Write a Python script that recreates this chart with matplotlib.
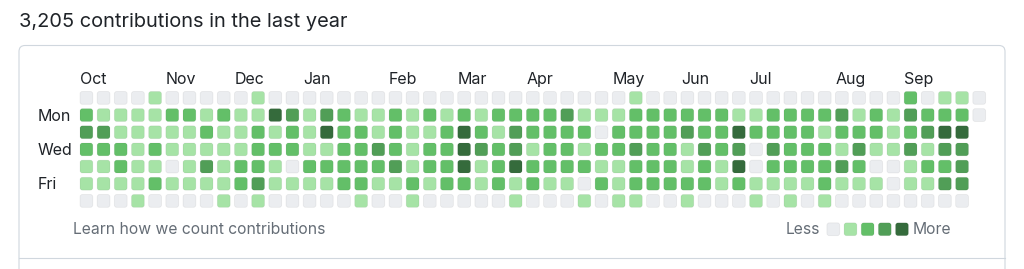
import matplotlib
matplotlib.use('Agg')
import matplotlib.pyplot as plt
from matplotlib.patches import FancyBboxPatch

plt.rcParams['font.family'] = ['Inter', 'DejaVu Sans']

title = '3,205 contributions in the last year'
months = ['Oct', 'Nov', 'Dec', 'Jan', 'Feb', 'Mar', 'Apr', 'May', 'Jun', 'Jul', 'Aug', 'Sep']
month_weeks = [0, 5, 9, 13, 18, 22, 26, 31, 35, 39, 44, 48]
day_labels = ['Mon', 'Wed', 'Fri']
day_rows = [1, 3, 5]

# contribution level (0-4) per week, one list per weekday
sun = [0, 0, 0, 0, 1, 0, 0, 0, 0, 0, 1, 0, 0,
       0, 0, 0, 0, 0, 0, 0, 0, 0, 0, 0, 0, 0, 0,
       0, 0, 0, 0, 0, 1, 0, 0, 0, 0, 0, 0, 0,
       0, 0, 0, 0, 0, 0, 0, 0, 2, 0, 1, 1, 0]
mon = [2, 1, 1, 1, 1, 2, 2, 1, 2, 1, 1, 4, 3,
       1, 3, 2, 1, 1, 2, 1, 2, 1, 2, 1, 2, 2, 2,
       2, 3, 1, 1, 1, 2, 2, 2, 2, 2, 2, 1, 1,
       2, 2, 2, 2, 3, 1, 2, 1, 3, 2, 2, 2, 0]
tue = [3, 3, 1, 1, 1, 1, 1, 2, 1, 1, 2, 1, 2,
       1, 4, 2, 2, 1, 2, 1, 1, 2, 4, 2, 1, 3, 2,
       2, 2, 2, 0, 2, 2, 2, 2, 3, 2, 2, 4, 2,
       2, 2, 2, 1, 2, 2, 2, 1, 2, 3, 4, 4]
wed = [2, 2, 2, 1, 2, 1, 1, 1, 1, 1, 2, 2, 2,
       1, 1, 2, 2, 3, 2, 1, 2, 2, 4, 3, 2, 3, 1,
       2, 2, 1, 2, 2, 3, 2, 2, 1, 3, 2, 3, 0,
       3, 2, 2, 2, 1, 3, 1, 1, 3, 1, 3, 3]
thu = [1, 1, 2, 1, 1, 0, 1, 3, 1, 2, 2, 1, 0,
       2, 2, 2, 2, 2, 3, 1, 2, 2, 4, 1, 2, 4, 2,
       2, 2, 2, 1, 1, 2, 2, 2, 1, 2, 1, 4, 0,
       2, 2, 2, 2, 3, 2, 0, 0, 1, 2, 2, 3]
fri = [1, 1, 1, 1, 2, 1, 1, 1, 1, 2, 3, 1, 1,
       1, 1, 2, 2, 1, 1, 2, 1, 2, 2, 1, 2, 1, 2,
       1, 1, 0, 2, 1, 2, 2, 2, 2, 2, 1, 2, 1,
       1, 1, 1, 2, 1, 1, 1, 0, 1, 1, 3, 3]
sat = [0, 0, 0, 1, 0, 0, 0, 0, 1, 0, 1, 0, 0,
       0, 0, 0, 1, 0, 0, 1, 0, 0, 0, 0, 0, 1, 0,
       0, 0, 1, 0, 1, 1, 0, 0, 1, 0, 0, 0, 1,
       0, 1, 0, 1, 0, 0, 0, 0, 0, 0, 0, 0]
weekdays = [sun, mon, tue, wed, thu, fri, sat]

palette = ['#ebedf0', '#a6e3a6', '#63bf68', '#519e57', '#356b3c']
text_dark = '#1f2328'
text_gray = '#656d76'

W, H = 1024, 269
pitch = 17.17
size = 12.8 / pitch

fig = plt.figure(figsize=(W / 100, H / 100), dpi=100)

# background axes in pixel units for frame and loose text
bg = fig.add_axes([0, 0, 1, 1])
bg.set_xlim(0, W)
bg.set_ylim(H, 0)
bg.axis('off')

bg.add_patch(FancyBboxPatch((19, 45.5), 986, 300, boxstyle='round,pad=0,rounding_size=6',
                            fc='white', ec='#d0d7de', lw=0.8))
bg.plot([19, 1005], [257.5, 257.5], color='#d0d7de', lw=0.8)

bg.text(19, 27, title, fontsize=14.4, color=text_dark, va='baseline', ha='left')
bg.text(73, 230, 'Learn how we count contributions', fontsize=11.3,
        color=text_gray, va='center', ha='left')
bg.text(820, 230, 'Less', fontsize=11.3, color=text_gray, va='center', ha='right')
bg.text(913, 230, 'More', fontsize=11.3, color=text_gray, va='center', ha='left')

# calendar axes: one unit per week / weekday
x0 = 86.4 - pitch / 2
y0 = 97.9 - pitch / 2
ax = fig.add_axes([x0 / W, 1 - (y0 + 7 * pitch) / H, 53 * pitch / W, 7 * pitch / H])
ax.set_xlim(-0.5, 52.5)
ax.set_ylim(6.5, -0.5)
ax.axis('off')


def cell(x, y, level):
    ax.add_patch(FancyBboxPatch((x - size / 2, y - size / 2), size, size,
                                boxstyle='round,pad=0,rounding_size=0.14',
                                fc=palette[level], ec=(0, 0, 0, 0.06), lw=0.6,
                                clip_on=False))


for r, row in enumerate(weekdays):
    for c, level in enumerate(row):
        cell(c, r, level)

for name, wk in zip(months, month_weeks):
    ax.text(wk - size / 2, -0.8, name, fontsize=11.5, color=text_dark,
            ha='left', va='baseline')

for name, r in zip(day_labels, day_rows):
    ax.text(-2.82, r + 0.32, name, fontsize=11.5, color=text_dark,
            ha='left', va='baseline')

# legend swatches
for k in range(len(palette)):
    cell(43.5 + k, 7.65, k)

fig.savefig('out.png', dpi=100)
